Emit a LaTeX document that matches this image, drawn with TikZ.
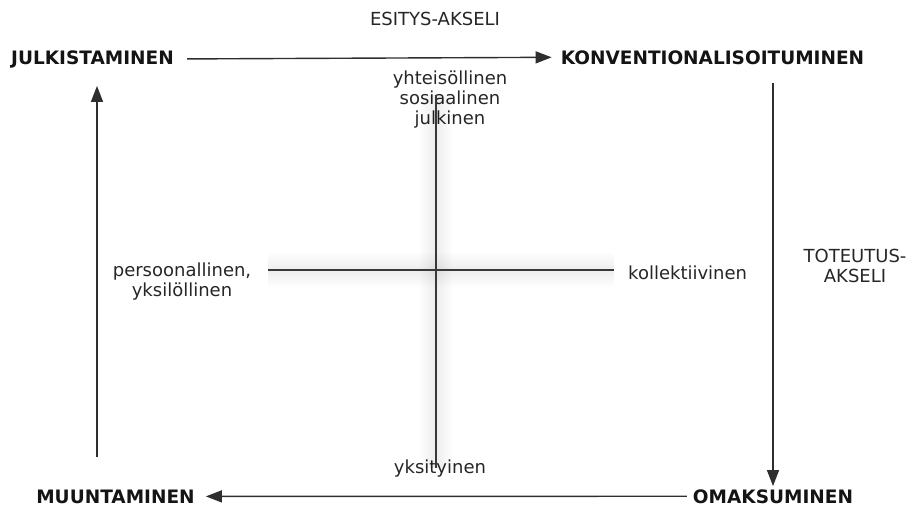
\documentclass[tikz,border=0pt]{standalone}
\usepackage{fontspec}
\setmainfont{DejaVu Sans}
\usetikzlibrary{arrows.meta}

\begin{document}
\begin{tikzpicture}[x=1pt, y=-1pt,
    every node/.style={inner sep=0pt, text=black!92},
    vaihe/.style={font=\bfseries\fontsize{18.5}{20}\selectfont, anchor=base},
    teksti/.style={font=\fontsize{18}{20}\selectfont, text=black!85},
    nuoli/.style={draw=black!82, line width=1.4pt, -{Triangle[length=16pt, width=12pt]}},
    akseli/.style={draw=black!78, line width=1.6pt},
    varjo/.style={draw=black, opacity=#1},
    ]
  \useasboundingbox (0,0) rectangle (915,507);

  % vaiheet kulmissa
  \node[vaihe] (julk) at (92.5,64) {JULKISTAMINEN};
  \node[vaihe] (konv) at (712.5,64) {KONVENTIONALISOITUMINEN};
  \node[vaihe] (muun) at (115.5,503) {MUUNTAMINEN};
  \node[vaihe] (omak) at (773,503) {OMAKSUMINEN};

  % akselien nimet
  \node[teksti, anchor=base] (esitys) at (435,25) {ESITYS-AKSELI};
  \node[teksti, anchor=north, align=center] (toteutus) at (855,249) {TOTEUTUS-\\AKSELI};

  % ristin paat
  \node[teksti, anchor=north, align=center] (yhteis) at (450,71) {yhteisöllinen\\sosiaalinen\\julkinen};
  \node[teksti, anchor=north, align=center] (pers) at (182,263) {persoonallinen,\\yksilöllinen};
  \node[teksti, anchor=base west] (koll) at (628,279) {kollektiivinen};
  \node[teksti, anchor=base] (yksit) at (440,473) {yksityinen};

  \coordinate (vasen) at (268,270);
  \coordinate (oikea) at (614,270);
  \coordinate (ylos) at (436,95);
  \coordinate (alas) at (436,468);

  % pehmea varjo ristin alla
  \foreach \w in {34,30,26,22,18,14,10,6} {
    \draw[varjo=0.008, line width=\w pt, shift={(1,4)}] (vasen) -- (oikea);
    \draw[varjo=0.008, line width=\w pt, shift={(3,2)}] (ylos) -- (alas);
  }
  \draw[akseli] (vasen) -- (oikea);
  \draw[akseli] (ylos) -- (alas);

  % kierto
  \draw[nuoli, shorten <=13pt, shorten >=9pt] (julk.east) -- (konv.west);
  \draw[nuoli, shorten <=19pt, shorten >=3pt] (konv.south -| omak.north) -- (omak.north);
  \draw[nuoli, shorten <=6pt, shorten >=11pt] (omak.west) -- (muun.east);
  \draw[nuoli, shorten <=32pt, shorten >=18pt] ([xshift=-18.5pt]muun.north) -- ([xshift=-18.5pt]muun.north |- julk.south);

\end{tikzpicture}
\end{document}
